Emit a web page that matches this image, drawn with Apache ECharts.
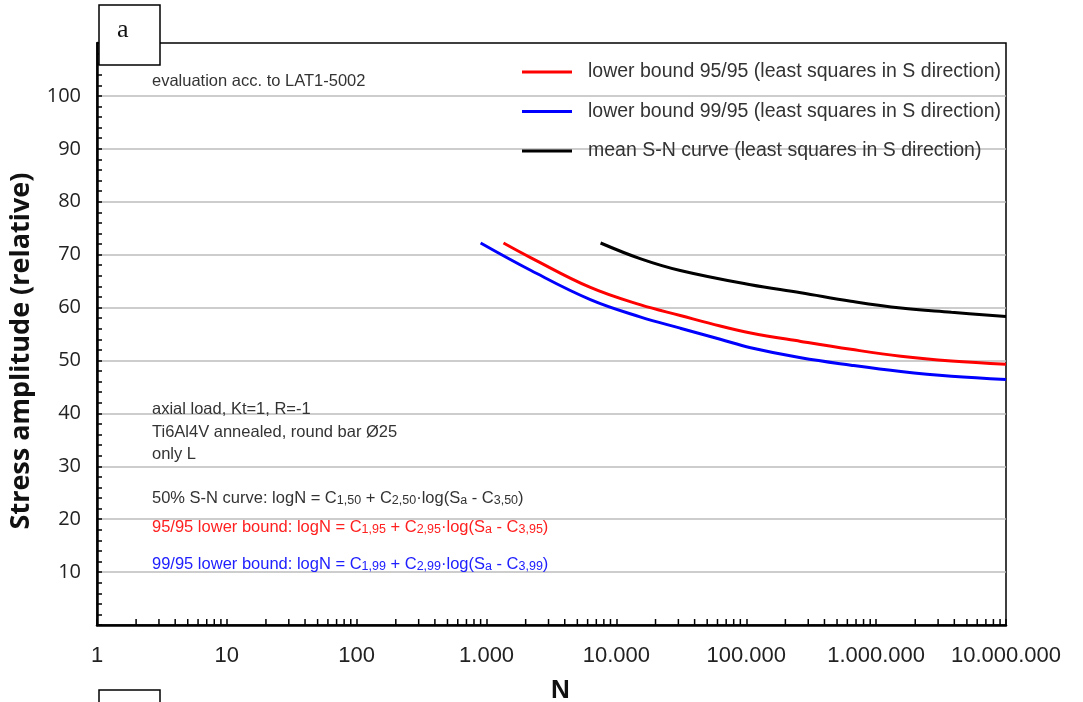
<!DOCTYPE html>
<html>
<head>
<meta charset="utf-8">
<title>S-N curves Ti6Al4V</title>
<script src="https://cdn.jsdelivr.net/npm/echarts@6/dist/echarts.min.js"></script>
<style>
  html, body { margin: 0; padding: 0; background: #fff; }
  #chart { width: 1083px; height: 702px; }
</style>
</head>
<body>
<div id="chart"></div>
<script>
// values (N = cycles, S = relative stress amplitude)
var redN = [1350, 2200, 6300, 15400, 31000, 63000, 108000, 263000, 640000, 1550000, 3800000, 10000000]
var redS = [72.2, 69.4, 63.8, 60.5, 58.5, 56.5, 55.2, 53.6, 52.1, 50.8, 49.9, 49.3]

var blueN = [900, 2200, 6300, 15400, 31000, 63000, 108000, 263000, 640000, 1550000, 3800000, 10000000]
var blueS = [72.2, 67.0, 61.5, 58.2, 56.1, 54.0, 52.4, 50.5, 49.1, 47.9, 47.0, 46.4]

var blackN = [7550, 15400, 31000, 108000, 263000, 640000, 1550000, 3800000, 10000000]
var blackS = [72.2, 69.2, 67.0, 64.3, 62.8, 61.2, 59.9, 59.1, 58.3]

var seriesNames = [
  'lower bound 95/95 (least squares in S direction)',
  'lower bound 99/95 (least squares in S direction)',
  'mean S-N curve (least squares in S direction)'
]

var yTicks = [10, 20, 30, 40, 50, 60, 70, 80, 90, 100]

function pairs(xs, ys) {
  return xs.map(function (x, i) { return [x, ys[i]] })
}

// minor ticks of the log axis (2..9 in each decade)
var minorTicks = []
for (var d = 0; d < 7; d++) {
  for (var k = 2; k <= 9; k++) {
    minorTicks.push([k * Math.pow(10, d), 0])
  }
}

function dotted(v) {
  return String(Math.round(v)).replace(/\B(?=(\d{3})+(?!\d))/g, '.')
}

var chart = echarts.init(document.getElementById('chart'))

var gridColors = []
for (var i = 0; i <= 11; i++) {
  gridColors.push(i === 0 || i === 11 ? 'rgba(0,0,0,0)' : '#bdbdbd')
}

var noteFont = '"Liberation Sans", Arial, sans-serif'

function note(x, y, text, color) {
  var c = color || '#333'
  return {
    type: 'text',
    left: x,
    top: y,
    z: 50,
    style: {
      text: text,
      fill: c,
      font: '16.5px ' + noteFont,
      rich: {
        s: { fill: c, fontSize: 12.5, fontFamily: noteFont, verticalAlign: 'bottom', lineHeight: 17 }
      }
    }
  }
}

chart.setOption({
  backgroundColor: '#fff',
  animation: false,
  grid: {
    left: 97,
    right: 77,
    top: 43,
    bottom: 77,
    containLabel: false,
    outerBoundsMode: 'none',
    show: true,
    borderColor: '#000',
    borderWidth: 1.5,
    backgroundColor: 'rgba(0,0,0,0)'
  },
  legend: {
    orient: 'vertical',
    left: 517,
    top: 57,
    itemWidth: 50,
    itemHeight: 3,
    itemGap: 19.5,
    icon: 'rect',
    data: seriesNames,
    textStyle: {
      fontFamily: noteFont,
      fontSize: 19.5,
      color: '#333',
      lineHeight: 20,
      padding: [0, 0, 0, 11]
    }
  },
  xAxis: {
    type: 'log',
    logBase: 10,
    min: 1,
    max: 10000000,
    name: 'N',
    nameLocation: 'middle',
    nameGap: 53,
    nameTextStyle: {
      fontFamily: noteFont,
      fontSize: 26,
      fontWeight: 'bold',
      color: '#111',
      padding: [0, 0, 0, 18]
    },
    axisLine: { show: true, lineStyle: { color: '#000', width: 2.5 } },
    axisTick: { show: true, inside: true, length: 6, lineStyle: { color: '#000', width: 1.5 } },
    axisLabel: {
      margin: 20,
      fontFamily: noteFont,
      fontSize: 22,
      color: '#222',
      formatter: function (v) { return dotted(v) }
    },
    splitLine: { show: false }
  },
  yAxis: {
    type: 'value',
    min: 0,
    max: 110,
    interval: 10,
    name: 'Stress amplitude (relative)',
    nameLocation: 'middle',
    nameGap: 62,
    nameTextStyle: {
      fontFamily: '"Open Sans", sans-serif',
      fontSize: 27,
      fontWeight: 'bold',
      color: '#111',
      padding: [0, 34, 0, 0]
    },
    axisLine: { show: true, lineStyle: { color: '#000', width: 2.5 } },
    axisTick: { show: true, inside: true, length: 5, lineStyle: { color: '#000', width: 1.5 } },
    minorTick: { show: true, splitNumber: 5, length: 5, lineStyle: { color: '#000', width: 1.5 } },
    axisLabel: {
      margin: 16,
      fontFamily: '"Open Sans", sans-serif',
      fontSize: 20,
      color: '#222',
      formatter: function (v) { return yTicks.indexOf(v) >= 0 ? String(v) : '' }
    },
    splitLine: { show: true, lineStyle: { color: gridColors, width: 1.5 } }
  },
  series: [
    {
      name: seriesNames[0],
      type: 'line',
      data: pairs(redN, redS),
      smooth: 0.4,
      showSymbol: false,
      color: '#ff0000',
      lineStyle: { color: '#ff0000', width: 3 },
      z: 5
    },
    {
      name: seriesNames[1],
      type: 'line',
      data: pairs(blueN, blueS),
      smooth: 0.4,
      showSymbol: false,
      color: '#0000ff',
      lineStyle: { color: '#0000ff', width: 3 },
      z: 5
    },
    {
      name: seriesNames[2],
      type: 'line',
      data: pairs(blackN, blackS),
      smooth: 0.4,
      showSymbol: false,
      color: '#000',
      lineStyle: { color: '#000', width: 3 },
      z: 5
    },
    {
      // minor ticks for the log axis
      type: 'custom',
      silent: true,
      clip: false,
      data: minorTicks,
      z: 6,
      renderItem: function (params, api) {
        var p = api.coord([api.value(0), 0])
        return {
          type: 'line',
          shape: { x1: p[0], y1: p[1], x2: p[0], y2: p[1] - 6 },
          style: { stroke: '#000', lineWidth: 1.5 }
        }
      }
    }
  ],
  graphic: [
    {
      type: 'rect',
      z: 40,
      shape: { x: 99, y: 5, width: 61, height: 60 },
      style: { fill: '#fff', stroke: '#000', lineWidth: 1.5 }
    },
    {
      type: 'text',
      z: 41,
      left: 117,
      top: 17,
      style: { text: 'a', font: '26px "Liberation Serif", serif', fill: '#111' }
    },
    {
      type: 'rect',
      z: 40,
      shape: { x: 99, y: 690, width: 61, height: 40 },
      style: { fill: '#fff', stroke: '#000', lineWidth: 1.5 }
    },
    note(152, 73, 'evaluation acc. to LAT1-5002'),
    note(152, 401, 'axial load, Kt=1, R=-1'),
    note(152, 424, 'Ti6Al4V annealed, round bar Ø25'),
    note(152, 446, 'only L'),
    note(152, 490, '50% S-N curve: logN = C{s|1,50} + C{s|2,50}·log(S{s|a} - C{s|3,50})'),
    note(152, 519, '95/95 lower bound: logN = C{s|1,95} + C{s|2,95}·log(S{s|a} - C{s|3,95})', '#ff2020'),
    note(152, 556, '99/95 lower bound: logN = C{s|1,99} + C{s|2,99}·log(S{s|a} - C{s|3,99})', '#2020ff')
  ]
})
</script>
</body>
</html>
